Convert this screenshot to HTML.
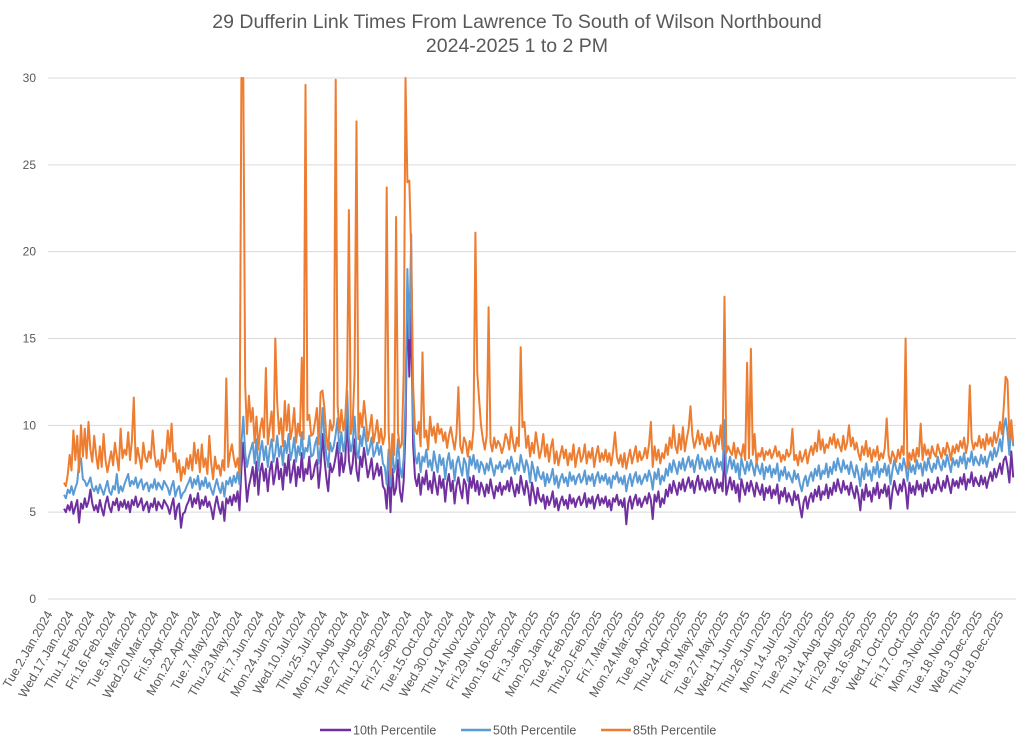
<!DOCTYPE html>
<html><head><meta charset="utf-8"><style>
html,body{margin:0;padding:0;background:#fff;}
svg{display:block;font-family:"Liberation Sans",Arial,sans-serif;}
</style></head><body>
<svg id="chart" width="1024" height="745" viewBox="0 0 1024 745">
<text x="517" y="28" text-anchor="middle" font-size="19.5" fill="#595959">29 Dufferin Link Times From Lawrence To South of Wilson Northbound</text>
<text x="517" y="52" text-anchor="middle" font-size="19.5" fill="#595959">2024-2025 1 to 2 PM</text>
<g id="grid"></g><g id="yticks"></g><g id="xticks"></g><g id="series"></g>
<g>
<g><line x1="320" y1="730" x2="351" y2="730" stroke="#7030A0" stroke-width="2.5"/><text x="353" y="734.5" font-size="12.5" fill="#595959">10th Percentile</text></g>
<g><line x1="461" y1="730" x2="491" y2="730" stroke="#5B9BD5" stroke-width="2.5"/><text x="493" y="734.5" font-size="12.5" fill="#595959">50th Percentile</text></g>
<g><line x1="601" y1="730" x2="631" y2="730" stroke="#ED7D31" stroke-width="2.5"/><text x="633" y="734.5" font-size="12.5" fill="#595959">85th Percentile</text></g>
</g>
</svg>
<script>
const tickLabels=["Tue.2.Jan.2024","Wed.17.Jan.2024","Thu.1.Feb.2024","Fri.16.Feb.2024","Tue.5.Mar.2024","Wed.20.Mar.2024","Fri.5.Apr.2024","Mon.22.Apr.2024","Tue.7.May.2024","Thu.23.May.2024","Fri.7.Jun.2024","Mon.24.Jun.2024","Wed.10.Jul.2024","Thu.25.Jul.2024","Mon.12.Aug.2024","Tue.27.Aug.2024","Thu.12.Sep.2024","Fri.27.Sep.2024","Tue.15.Oct.2024","Wed.30.Oct.2024","Thu.14.Nov.2024","Fri.29.Nov.2024","Mon.16.Dec.2024","Fri.3.Jan.2025","Mon.20.Jan.2025","Tue.4.Feb.2025","Thu.20.Feb.2025","Fri.7.Mar.2025","Mon.24.Mar.2025","Tue.8.Apr.2025","Thu.24.Apr.2025","Fri.9.May.2025","Tue.27.May.2025","Wed.11.Jun.2025","Thu.26.Jun.2025","Mon.14.Jul.2025","Tue.29.Jul.2025","Thu.14.Aug.2025","Fri.29.Aug.2025","Tue.16.Sep.2025","Wed.1.Oct.2025","Fri.17.Oct.2025","Mon.3.Nov.2025","Tue.18.Nov.2025","Wed.3.Dec.2025","Thu.18.Dec.2025"];
const yTicks=[0,5,10,15,20,25,30];
const p10=[5.2,5.0,5.4,5.1,5.6,4.9,5.3,5.7,4.4,5.5,5.2,
5.8,5.3,5.6,6.3,5.5,5.1,5.4,5.0,5.7,5.2,4.8,
5.5,5.9,5.3,5.0,5.6,5.4,5.8,5.1,5.6,5.3,5.7,
5.2,5.6,5.0,5.7,5.4,5.9,5.3,5.5,5.8,5.1,5.4,
5.6,5.0,5.5,5.3,5.8,5.1,5.6,5.4,5.2,5.7,5.5,
5.3,4.9,5.4,5.8,4.6,5.3,5.5,4.1,4.9,5.0,5.4,
5.6,6.0,5.3,5.8,5.5,6.1,5.2,5.7,5.4,5.9,5.3,
5.6,5.2,4.6,5.4,5.9,5.3,4.9,5.6,4.5,5.8,5.5,
5.9,5.4,6.0,5.6,6.2,5.1,7.5,9.0,7.2,5.6,6.5,
7.0,7.6,6.5,7.9,6.0,7.3,7.8,6.8,7.5,6.2,7.4,
7.9,6.6,7.2,8.1,6.9,7.5,6.3,7.8,7.1,8.3,6.7,
7.3,8.0,6.5,7.6,7.0,8.4,6.8,7.5,7.2,8.2,6.9,
7.1,7.7,8.0,6.4,7.6,9.5,8.1,7.0,6.2,7.8,7.3,
7.6,8.2,9.0,7.1,8.4,7.3,7.9,10.5,8.0,7.2,7.8,
9.2,7.4,6.8,8.2,7.6,8.7,7.9,7.0,7.5,8.1,6.9,
7.3,7.8,7.1,7.6,6.5,6.3,5.2,7.4,5.0,7.5,6.0,
6.4,8.0,6.2,5.6,6.8,9.8,17.4,12.8,16.7,8.9,7.0,
6.5,7.2,6.0,7.0,6.6,7.4,6.3,6.8,6.1,7.3,6.6,
6.0,7.1,6.4,6.9,5.6,6.7,7.2,6.2,6.8,5.5,6.5,
7.0,6.3,5.8,6.9,6.6,5.5,7.0,6.4,7.1,6.2,6.8,
6.0,6.7,6.4,5.9,6.6,6.1,6.9,6.3,5.8,6.5,6.2,
6.7,6.0,6.5,6.3,6.8,6.2,7.0,6.4,5.9,6.6,6.1,
7.1,6.5,6.0,6.8,6.3,5.4,6.7,6.1,5.5,6.4,5.8,
5.6,6.0,5.2,5.9,5.4,5.7,6.2,5.3,5.8,5.1,5.6,
5.9,5.4,5.7,5.2,6.0,5.5,5.8,5.3,5.7,5.9,5.4,
5.6,6.1,5.3,5.8,5.5,5.9,5.2,5.7,6.0,5.4,5.8,
5.5,5.9,5.3,5.7,5.1,5.8,5.6,6.0,5.4,5.7,5.3,
5.8,4.3,5.5,5.9,5.2,5.7,6.0,5.4,5.8,5.3,5.6,
5.9,5.5,6.1,5.7,4.6,6.0,5.6,6.2,5.3,5.8,5.5,
6.3,5.9,6.6,6.1,6.8,6.4,6.0,6.7,6.3,6.9,6.2,
6.6,7.0,6.4,6.8,6.1,6.7,7.1,6.3,6.9,6.5,6.2,
6.8,6.3,7.0,6.5,6.1,6.9,6.4,6.7,6.2,8.5,6.0,
6.5,7.0,6.3,6.8,6.1,6.6,5.6,6.9,6.4,6.0,6.7,
6.2,6.8,6.4,5.9,6.7,6.3,6.0,6.6,5.7,6.4,6.1,
6.5,5.8,6.3,6.0,6.6,5.5,6.2,5.9,6.4,5.6,6.1,
5.8,5.4,6.2,5.7,6.0,5.3,4.7,5.6,5.9,5.2,5.8,
6.1,5.6,6.3,5.9,6.5,5.7,6.2,6.0,6.6,5.8,6.4,
6.0,6.7,6.2,6.9,6.4,6.1,6.8,6.3,6.5,6.0,6.7,
6.2,5.8,6.5,6.0,5.1,6.3,5.7,6.6,5.9,6.2,5.6,
6.4,6.0,6.7,5.8,6.3,6.1,6.6,5.9,6.5,5.2,6.2,
6.8,6.3,6.0,6.6,6.2,6.9,6.4,5.2,6.7,6.1,6.5,
6.0,6.8,6.3,6.6,5.9,6.7,6.2,6.9,6.4,6.1,6.6,
6.3,7.0,6.5,6.2,6.8,6.4,7.1,6.6,6.1,6.9,6.5,
6.8,6.4,7.0,6.6,7.2,6.3,6.9,6.7,7.3,6.5,7.0,
6.7,6.5,7.1,6.6,7.0,6.4,6.9,7.3,6.8,7.5,7.0,
7.4,7.8,7.2,8.0,8.2,7.6,6.7,8.5,7.0];
const p50=[6.0,5.8,6.3,6.1,6.5,6.0,6.4,6.7,7.9,8.1,6.9,
6.8,6.5,6.7,7.0,6.4,6.2,6.5,6.1,6.6,6.3,6.0,
6.4,6.8,6.2,6.0,6.5,6.3,7.2,6.1,6.5,6.2,6.6,
6.9,7.2,6.5,6.8,6.6,7.0,6.4,6.7,6.9,6.3,6.6,
6.7,6.2,6.6,6.4,6.9,6.3,6.7,6.5,6.3,6.8,6.6,
6.4,6.0,6.5,6.8,5.9,6.3,6.5,5.8,6.1,6.2,6.5,
6.7,7.0,6.4,6.9,6.6,7.1,6.3,6.8,6.5,7.0,6.4,
6.7,6.3,6.0,6.5,6.9,6.4,6.1,6.7,5.9,6.8,6.6,
7.0,6.5,7.1,6.7,7.3,6.6,9.0,10.5,8.4,7.6,8.2,
8.6,9.0,7.8,9.2,7.4,8.5,9.1,8.0,8.8,7.6,8.6,
9.2,7.9,8.4,9.4,8.2,8.8,7.7,9.1,8.4,9.5,8.0,
8.5,9.3,7.9,8.8,8.3,9.6,8.1,8.7,8.5,9.4,8.2,
8.3,8.9,9.3,7.8,8.8,11.0,9.4,8.3,7.6,9.0,8.5,
8.8,9.5,10.4,8.4,9.6,8.5,9.1,12.0,9.3,8.5,9.0,
10.5,8.6,8.1,9.4,8.8,9.9,9.1,8.3,8.7,9.3,8.2,
8.5,9.0,8.3,8.8,7.8,7.6,6.6,8.6,6.5,8.7,7.3,
7.8,9.2,7.6,7.0,8.1,11.5,19.0,15.0,21.0,10.2,8.3,
7.8,8.4,7.3,8.2,7.9,8.6,7.6,8.0,7.4,8.5,7.9,
7.3,8.3,7.7,8.1,6.9,7.9,8.4,7.5,8.0,6.8,7.8,
8.2,7.6,7.1,8.1,7.8,6.8,8.2,7.7,8.3,7.5,8.0,
7.3,7.9,7.7,7.2,7.8,7.4,8.1,7.6,7.1,7.7,7.5,
7.9,7.3,7.7,7.6,8.0,7.5,8.2,7.7,7.2,7.8,7.4,
8.3,7.8,7.3,8.0,7.6,6.7,7.9,7.4,6.8,7.6,7.1,
6.9,7.3,6.5,7.2,6.7,7.0,7.5,6.6,7.1,6.4,6.9,
7.2,6.7,7.0,6.5,7.3,6.8,7.1,6.6,7.0,7.2,6.7,
6.9,7.4,6.6,7.1,6.8,7.2,6.5,7.0,7.3,6.7,7.1,
6.8,7.2,6.6,7.0,6.4,7.1,6.9,7.3,6.7,7.0,6.6,
7.1,6.2,6.8,7.2,6.5,7.0,7.3,6.7,7.1,6.6,6.9,
7.2,6.8,7.4,7.0,6.3,7.3,6.9,7.5,6.6,7.1,6.8,
7.5,7.1,7.8,7.3,8.0,7.6,7.2,7.9,7.5,8.1,7.4,
7.8,8.2,7.6,8.0,7.3,7.9,8.3,7.5,8.1,7.7,7.4,
8.0,7.5,8.2,7.7,7.3,8.1,7.6,7.9,7.4,10.3,7.2,
7.7,8.2,7.5,8.0,7.3,7.8,6.9,8.1,7.6,7.2,7.9,
7.4,8.0,7.6,7.1,7.9,7.5,7.2,7.8,6.9,7.6,7.3,
7.7,7.0,7.5,7.2,7.8,6.8,7.4,7.1,7.6,6.9,7.3,
7.0,6.7,7.4,6.9,7.2,6.6,6.2,6.8,7.1,6.5,7.0,
7.3,6.8,7.5,7.1,7.7,6.9,7.4,7.2,7.8,7.0,7.6,
7.2,7.9,7.4,8.1,7.6,7.3,8.0,7.5,7.7,7.2,7.9,
7.4,7.0,7.7,7.2,6.5,7.5,6.9,7.8,7.1,7.4,6.8,
7.6,7.2,7.9,7.0,7.5,7.3,7.8,7.1,7.7,6.6,7.4,
8.0,7.5,7.2,7.8,7.4,8.1,7.6,6.8,7.9,7.3,7.7,
7.2,8.0,7.5,7.8,7.1,7.9,7.4,8.1,7.6,7.3,7.8,
7.5,8.2,7.7,7.4,8.0,7.6,8.3,7.8,7.3,8.1,7.7,
8.0,7.6,8.2,7.8,8.4,7.5,8.1,7.9,8.5,7.7,8.2,
7.9,7.7,8.3,7.8,8.2,7.6,8.1,8.5,8.0,8.7,8.2,
8.6,9.2,8.5,9.8,10.4,9.6,8.3,10.1,8.8];
const p85=[6.7,6.5,7.2,8.3,7.4,9.7,8.0,9.4,7.3,10.0,8.2,
9.8,8.1,10.2,8.6,7.9,9.4,8.3,7.5,8.8,7.6,9.5,
8.0,7.3,7.9,8.5,7.7,9.0,8.2,7.4,9.8,8.1,8.6,
8.3,9.6,8.0,9.1,11.6,7.8,8.7,8.1,7.5,9.0,8.2,
7.9,8.5,8.1,9.7,8.3,7.6,8.0,7.4,8.6,7.8,8.2,
9.7,8.5,10.1,7.9,8.4,7.3,8.0,6.8,7.6,7.2,8.1,
7.5,8.3,7.4,9.0,7.8,8.6,7.3,8.9,7.6,8.1,7.2,
9.4,7.8,6.9,8.2,7.5,7.7,7.1,8.0,7.4,12.7,7.6,
8.4,8.9,8.1,7.6,8.1,7.2,30,30,12.3,9.5,11.7,
10.2,11.0,9.0,10.5,8.6,9.8,10.4,9.3,13.3,8.9,9.9,
10.8,9.1,15.0,11.3,9.5,10.4,8.8,11.4,9.7,11.2,9.2,
9.8,11.0,9.0,10.1,9.4,13.9,9.2,29.6,10.3,10.6,9.4,
9.5,10.2,11.0,8.9,11.9,12.0,11.0,9.4,8.6,10.3,9.7,
10.1,29.9,11.2,9.6,10.9,9.7,10.4,12.5,22.4,9.5,10.2,
13.0,27.5,9.2,10.7,9.9,11.4,10.3,9.1,9.8,10.6,9.0,
9.6,10.3,9.0,9.8,8.9,9.4,23.7,9.8,7.2,9.5,8.3,
22.0,9.6,8.7,8.9,13.0,30,24.0,24.1,20.0,12.3,9.8,
9.5,10.2,8.8,14.2,9.3,9.7,8.6,10.5,9.4,9.9,9.0,
10.1,9.5,9.8,9.1,9.6,8.7,9.4,9.9,9.2,8.6,9.5,
12.2,8.8,8.4,9.3,9.0,8.2,9.1,8.6,9.8,21.1,13.0,
11.5,10.0,9.2,8.6,9.4,16.8,9.0,8.5,9.3,8.7,9.1,
8.9,8.4,8.8,9.5,9.2,8.6,9.9,9.0,8.5,9.3,8.8,
14.5,9.9,10.2,8.7,9.4,8.2,9.0,8.4,9.6,8.9,8.1,
8.6,9.5,8.2,8.9,7.9,8.7,9.2,7.8,8.5,7.7,8.3,
8.8,8.1,8.6,7.7,8.4,8.0,8.9,7.6,8.3,8.7,7.9,
8.2,8.9,7.8,8.5,8.1,8.7,7.6,8.3,8.8,7.9,8.4,
8.0,8.6,7.9,8.4,7.7,8.5,9.6,8.2,7.8,8.3,7.6,
8.4,7.5,8.1,8.6,7.8,8.3,8.8,7.9,8.5,8.0,8.2,
8.7,8.1,8.9,10.2,7.6,8.8,8.0,8.6,7.8,8.4,8.1,
8.9,8.3,9.3,8.7,10.0,8.8,8.4,9.5,8.6,9.9,8.5,
9.2,9.8,11.1,9.4,8.7,9.1,9.7,8.9,9.5,9.0,8.6,
9.3,8.8,9.6,9.0,8.5,9.4,8.9,10.0,8.6,17.4,8.4,
8.8,8.5,8.3,9.0,8.1,8.7,8.4,8.2,8.9,8.0,13.6,
8.1,14.4,8.3,9.5,7.8,8.4,8.2,8.7,8.0,8.5,8.3,
8.6,8.1,8.4,8.8,8.2,8.5,7.9,8.3,8.0,8.6,8.2,
8.4,9.8,8.0,8.3,7.7,8.5,7.9,8.2,8.6,7.8,8.4,
8.8,8.3,9.0,8.5,9.7,8.6,9.2,8.4,8.9,8.7,9.3,
8.9,9.5,8.7,9.2,8.8,8.5,9.4,8.6,9.0,10.0,8.8,
9.3,8.6,9.0,8.4,8.0,8.8,8.3,9.1,8.2,8.7,7.9,
8.6,8.2,8.8,8.0,8.4,8.1,8.7,10.4,8.3,7.8,8.5,
8.2,7.9,8.6,8.1,8.8,8.3,15.0,7.5,8.4,8.0,8.6,
7.9,8.7,8.2,10.1,8.0,8.9,8.3,8.6,8.1,8.8,8.4,
8.2,8.9,8.5,8.1,8.7,8.3,9.0,8.6,8.0,8.8,8.4,
8.9,8.5,9.1,8.7,9.3,8.4,9.0,12.3,9.2,8.6,9.0,
8.8,9.4,8.7,9.2,8.6,9.5,8.9,9.3,8.8,9.6,9.0,
9.4,10.2,9.5,11.0,12.8,12.6,9.2,10.3,9.0];

const NS='http://www.w3.org/2000/svg';
const X0=64, STEP=1.887, Y0=599, YMAX=30, PLOT_TOP=78, GX1=48, GX2=1016;
const LABEL_X0=53, LABEL_STEP=21.13;
function xs(i){return X0+i*STEP;}
function ys(v){return Y0-(Math.min(v,YMAX)/YMAX)*(Y0-PLOT_TOP);}
function mk(tag,attrs,parent){const e=document.createElementNS(NS,tag);for(const k in attrs)e.setAttribute(k,attrs[k]);parent.appendChild(e);return e;}
const grid=document.getElementById('grid'), yt=document.getElementById('yticks'), xt=document.getElementById('xticks'), ser=document.getElementById('series');
yTicks.forEach(t=>{
  const l=mk('line',{x1:GX1,x2:GX2,y1:ys(t),y2:ys(t),stroke:'#d9d9d9','stroke-width':1},grid);
  
  
  const tx=mk('text',{x:36,y:ys(t)+4,'text-anchor':'end','font-size':12,fill:'#595959'},yt);
  tx.textContent=String(t);
  
  
});
tickLabels.forEach((lab,k)=>{
  const x=LABEL_X0+k*LABEL_STEP;
  const tx=mk('text',{x:0,y:0,'text-anchor':'end','font-size':12.5,fill:'#595959',transform:'translate('+x+',614) rotate(-60)'},xt);
  tx.textContent=lab;
  
  
});
function drawSeries(arr,color,name){
  const pts=arr.map((v,i)=>xs(i).toFixed(1)+','+ys(v).toFixed(1)).join(' ');
  const pl=mk('polyline',{points:pts,fill:'none',stroke:color,'stroke-width':2,'stroke-linejoin':'round'},ser);
  
  
}
drawSeries(p10,'#7030A0','series-10th-percentile');
drawSeries(p50,'#5B9BD5','series-50th-percentile');
drawSeries(p85,'#ED7D31','series-85th-percentile');
</script>
</body></html>
